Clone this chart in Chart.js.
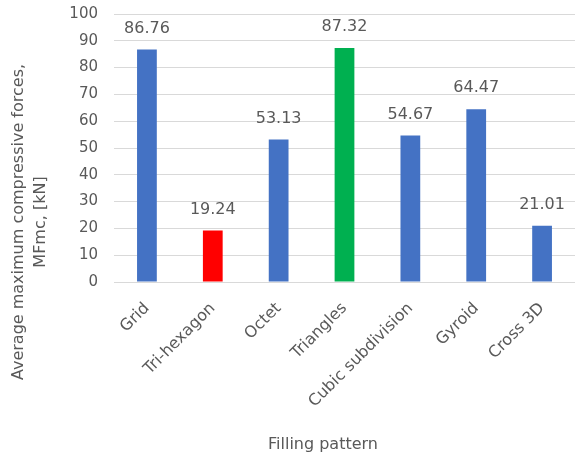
<!DOCTYPE html>
<html>
<head>
<meta charset="utf-8">
<script src="https://cdn.jsdelivr.net/npm/chart.js@4/dist/chart.umd.min.js"></script>
<style>
  html, body { margin: 0; padding: 0; background: #fff; }
  #chart { display: block; }
</style>
</head>
<body>
<canvas id="chart" width="575" height="461"></canvas>
<script>
// Data
const patterns = ['Grid', 'Tri-hexagon', 'Octet', 'Triangles', 'Cubic subdivision', 'Gyroid', 'Cross 3D'];
const forces = [86.76, 19.24, 53.13, 87.32, 54.67, 64.47, 21.01];
const yTicks = [0, 10, 20, 30, 40, 50, 60, 70, 80, 90, 100];
const yTitleLines = ['Average maximum compressive forces,', 'MFmc, [kN]'];
const xTitle = 'Filling pattern';

// Styles
const barColors = ['#4472c4', '#ff0000', '#4472c4', '#00b050', '#4472c4', '#4472c4', '#4472c4'];
const textColor = '#595959';
const gridColor = '#d9d9d9';
const fontFamily = '"DejaVu Sans", sans-serif';

// value labels above each bar
const valueLabels = {
    id: 'valueLabels',
    afterDatasetsDraw(chart) {
        const ctx = chart.ctx;
        const meta = chart.getDatasetMeta(0);
        ctx.save();
        ctx.font = '16px ' + fontFamily;
        ctx.fillStyle = textColor;
        ctx.textAlign = 'center';
        ctx.textBaseline = 'middle';
        meta.data.forEach((bar, i) => {
            ctx.fillText(forces[i].toFixed(2), bar.x, bar.y - 21);
        });
        ctx.restore();
    }
};

// axis titles, placed like the original (Excel centres them on the whole plot)
const axisTitles = {
    id: 'axisTitles',
    afterDraw(chart) {
        const ctx = chart.ctx;
        ctx.save();
        ctx.font = '16px ' + fontFamily;
        ctx.fillStyle = textColor;
        ctx.textAlign = 'center';
        ctx.textBaseline = 'middle';
        const xs = [19, 41];
        yTitleLines.forEach((line, i) => {
            ctx.save();
            ctx.translate(xs[i], 222);
            ctx.rotate(-Math.PI / 2);
            ctx.fillText(line, 0, 0);
            ctx.restore();
        });
        ctx.fillText(xTitle, 323, 445);
        ctx.restore();
    }
};

new Chart(document.getElementById('chart').getContext('2d'), {
    type: 'bar',
    data: {
        labels: patterns,
        datasets: [{
            data: forces,
            backgroundColor: barColors,
            borderWidth: 0,
            categoryPercentage: 1,
            barPercentage: 0.3
        }]
    },
    options: {
        responsive: false,
        animation: false,
        devicePixelRatio: 1,
        layout: { padding: { top: 14, right: 0, bottom: 0, left: 0 } },
        plugins: {
            legend: { display: false },
            tooltip: { enabled: false }
        },
        scales: {
            x: {
                grid: { display: false },
                border: { display: true, color: gridColor, width: 1 },
                ticks: {
                    color: textColor,
                    font: { family: fontFamily, size: 16 },
                    minRotation: 45,
                    maxRotation: 45,
                    padding: 9
                },
                afterFit(scale) { scale.height = 179; }
            },
            y: {
                min: 0,
                max: 100,
                afterBuildTicks(scale) { scale.ticks = yTicks.map(v => ({ value: v })); },
                grid: { color: gridColor, drawTicks: false },
                border: { display: false },
                ticks: {
                    color: textColor,
                    font: { family: fontFamily, size: 15 },
                    padding: 16
                },
                afterFit(scale) {
                    scale.width = 114;
                    scale.paddingTop = 0;
                    scale.paddingBottom = 0;
                }
            }
        }
    },
    plugins: [valueLabels, axisTitles]
});
</script>
</body>
</html>
